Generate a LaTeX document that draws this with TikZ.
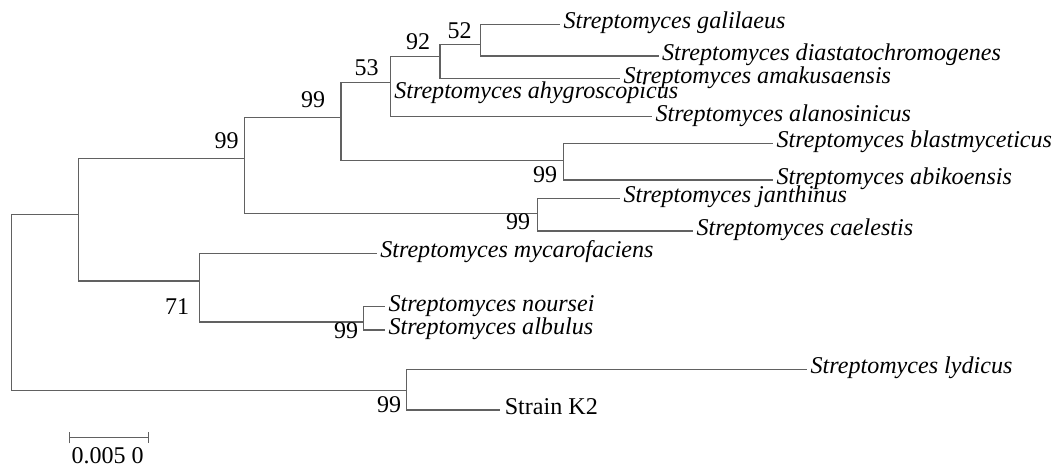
\documentclass[tikz,border=0pt]{standalone}
\usepackage{fontspec}
\setmainfont{Liberation Serif}
\usetikzlibrary{arrows.meta}
\begin{document}
\begin{tikzpicture}[x=0.5pt,y=-0.5pt,
  branch/.style={draw=black!62,line width=0.55pt},
  leaf/.style={anchor=mid west,inner xsep=1.6pt,inner ysep=0pt,font=\fontsize{12.05pt}{14pt}\selectfont\itshape},
  strain/.style={anchor=mid west,inner xsep=2.2pt,inner ysep=0pt,font=\fontsize{12.05pt}{14pt}\selectfont},
  boot/.style={inner sep=0pt,font=\fontsize{12pt}{14pt}\selectfont},
  scalebar/.style={draw=black!62,line width=0.55pt,{Bar[width=5.6pt]}-{Bar[width=5.6pt]}}]
\useasboundingbox (0,0) rectangle (1060,466);

% internal nodes (placed at the point where the parent branch joins)
\coordinate (R) at (11.2,300);
\coordinate (A) at (78.4,214.7);
\coordinate (B) at (244.8,158.2);
\coordinate (C) at (341,117.3);
\coordinate (D) at (390.7,82.5);
\coordinate (E) at (440,56.7);
\coordinate (F) at (480.7,44.3);
\coordinate (G) at (563.3,160.7);
\coordinate (J) at (537.3,213.3);
\coordinate (H) at (199.3,281);
\coordinate (I) at (363.3,322);
\coordinate (K) at (406.7,390.7);

% taxa
\node[leaf] (gal) at (560,24.3) {Streptomyces galilaeus};
\node[leaf] (dia) at (658.5,56) {Streptomyces diastatochromogenes};
\node[leaf] (ama) at (620,78.7) {Streptomyces amakusaensis};
\node[leaf] (ahy) at (390.7,93.7) {Streptomyces ahygroscopicus};
\node[leaf] (ala) at (652,116.7) {Streptomyces alanosinicus};
\node[leaf] (bla) at (773,143.3) {Streptomyces blastmyceticus};
\node[leaf] (abi) at (773,180) {Streptomyces abikoensis};
\node[leaf] (jan) at (620,198.3) {Streptomyces janthinus};
\node[leaf] (cae) at (693,231) {Streptomyces caelestis};
\node[leaf] (myc) at (376.7,253.3) {Streptomyces mycarofaciens};
\node[leaf] (nou) at (385,306.7) {Streptomyces noursei};
\node[leaf] (alb) at (385,330) {Streptomyces albulus};
\node[leaf] (lyd) at (807,369.3) {Streptomyces lydicus};
\node[strain] (k2) at (500,410) {Strain K2};

% branches
\draw[branch] (R) |- (A);
\draw[branch] (R) |- (K);
\draw[branch] (A) |- (B);
\draw[branch] (A) |- (H);
\draw[branch] (B) |- (C);
\draw[branch] (B) |- (J);
\draw[branch] (C) |- (D);
\draw[branch] (C) |- (G);
\draw[branch] (D) |- (E);
\draw[branch] (D) |- (ahy.mid west);
\draw[branch] (D) |- (ala.mid west);
\draw[branch] (E) |- (F);
\draw[branch] (E) |- (ama.mid west);
\draw[branch] (F) |- (gal.mid west);
\draw[branch] (F) |- (dia.mid west);
\draw[branch] (G) |- (bla.mid west);
\draw[branch] (G) |- (abi.mid west);
\draw[branch] (J) |- (jan.mid west);
\draw[branch] (J) |- (cae.mid west);
\draw[branch] (H) |- (myc.mid west);
\draw[branch] (H) |- (I);
\draw[branch] (I) |- (nou.mid west);
\draw[branch] (I) |- (alb.mid west);
\draw[branch] (K) |- (lyd.mid west);
\draw[branch] (K) |- (k2.mid west);

% bootstrap values
\node[boot] (bB) at (226.5,141) {99};
\node[boot] (bC) at (313,100) {99};
\node[boot] (bD) at (366.5,67.5) {53};
\node[boot] (bE) at (418,41.5) {92};
\node[boot] (bF) at (459.5,30.5) {52};
\node[boot] (bG) at (545,175) {99};
\node[boot] (bJ) at (518,222) {99};
\node[boot] (bH) at (177,307) {71};
\node[boot] (bI) at (346,331) {99};
\node[boot] (bK) at (389,405) {99};

% scale bar
\coordinate (sL) at (69.3,437.7);
\coordinate (sR) at (149.3,437.7);
\draw[scalebar] (sL) -- (sR);
\node[boot] (sc) at (107.5,456) {0.005 0};
\end{tikzpicture}
\end{document}
